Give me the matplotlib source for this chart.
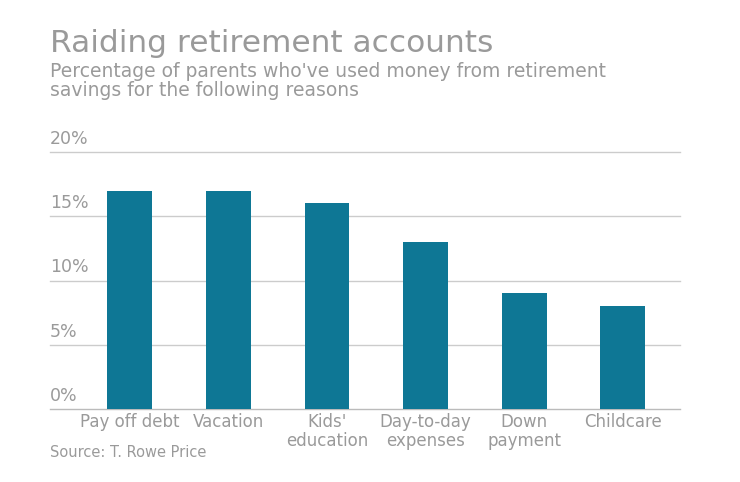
import matplotlib
matplotlib.use("Agg")
import matplotlib.pyplot as plt
from matplotlib.transforms import offset_copy

categories = ["Pay off debt", "Vacation", "Kids'\neducation", "Day-to-day\nexpenses", "Down\npayment", "Childcare"]
values = [17, 17, 16, 13, 9, 8]
yticks = [0, 5, 10, 15, 20]
ytick_labels = ["0%", "5%", "10%", "15%", "20%"]

plt.rcParams['font.family'] = ['DejaVu Sans']
W, H = 740, 482
fig = plt.figure(figsize=(W/100, H/100), dpi=100)
ax = fig.add_axes([50/W, 1-409/H, 630/W, 257/H])

x = list(range(len(categories)))
ax.bar(x, values, width=0.455, color="#0e7795", zorder=3)
ax.set_xlim(-0.81, 5.58)
ax.set_ylim(0, 20)
lab_tr = offset_copy(ax.get_yaxis_transform(), fig=fig, x=0, y=3, units="points")
for t, lab in zip(yticks, ytick_labels):
    ax.axhline(t, color="#cccccc" if t else "#bbbbbb", lw=1, zorder=1, clip_on=False)
    ax.text(0, t, lab, transform=lab_tr, ha="left", va="bottom",
            fontsize=12.5, color="#9a9a9a")
for s in ax.spines.values():
    s.set_visible(False)
ax.set_yticks([])
ax.set_xticks(x)
ax.set_xticklabels(categories, fontsize=12, color="#9a9a9a", linespacing=1.05)
ax.tick_params(axis="x", length=0, pad=3)

fig.text(50/W, 1-52/H, "Raiding retirement accounts", fontsize=22.5, color="#9a9a9a", ha="left", va="baseline")
fig.text(50/W, 1-96/H, "Percentage of parents who've used money from retirement\nsavings for the following reasons",
         fontsize=13.5, color="#9a9a9a", ha="left", va="baseline", linespacing=1.0)
fig.text(50/W, 1-457/H, "Source: T. Rowe Price", fontsize=10.5, color="#9a9a9a", ha="left", va="baseline")

fig.savefig("out.png", dpi=100)
